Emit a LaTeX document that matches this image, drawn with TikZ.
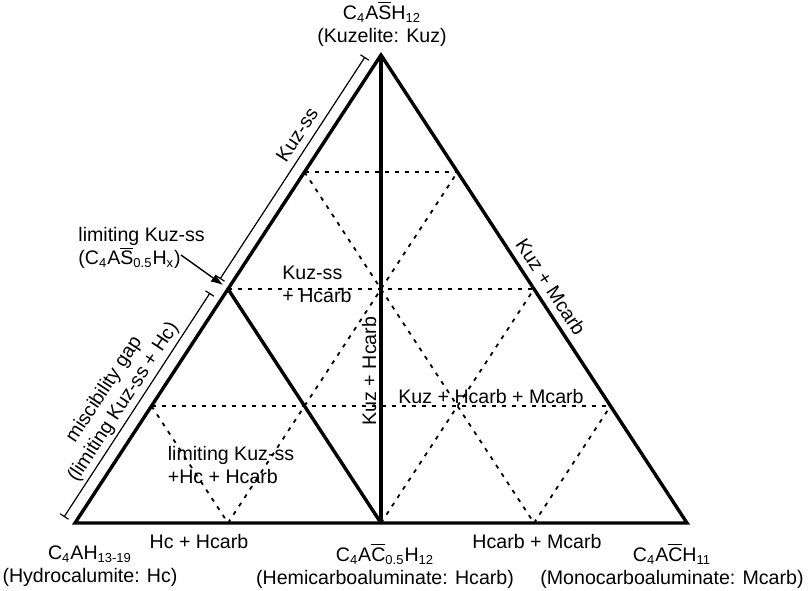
\documentclass[tikz,border=0pt]{standalone}
\usepackage{fontspec}
\setmainfont{Liberation Sans}
\usetikzlibrary{arrows.meta}

\newcommand{\ovr}[1]{$\overline{\mbox{#1}}$}
\newcommand{\sbs}[1]{\textsubscript{\fontsize{6.5}{6.5}\selectfont #1}}

\tikzset{
  phase/.style={line width=1.7pt, line join=miter},
  gridline/.style={line width=0.9pt, dash pattern=on 2pt off 3pt},
  dimline/.style={line width=0.6pt, {Bar[width=5pt]}-{Bar[width=5pt]}},
  lbl/.style={font=\fontsize{9.8}{11.5}\selectfont, inner sep=0pt},
}

\begin{document}
\begin{tikzpicture}[x=0.5pt, y=-0.5pt]
   \useasboundingbox (0,0) rectangle (812,590);
   % corners of the triangle
   \coordinate (Kuz) at (381,55);
   \coordinate (Hc) at (75,523);
   \coordinate (Mcarb) at (687,523);
   \coordinate (Hcarb) at (381,523);
   \coordinate (lim) at (228,289);
   % grid points
   \coordinate (L1) at (304.5,172);
   \coordinate (L3) at (151.5,406);
   \coordinate (R1) at (457.5,172);
   \coordinate (R2) at (534,289);
   \coordinate (R3) at (610.5,406);
   \coordinate (B1) at (228,523);
   \coordinate (B3) at (534,523);
   % dotted grid
   \draw[gridline] (L1) -- (R1);
   \draw[gridline] (lim) -- (R2);
   \draw[gridline] (L3) -- (R3);
   \draw[gridline] (B1) -- (R1);
   \draw[gridline] (Hcarb) -- (R2);
   \draw[gridline] (B3) -- (R3);
   \draw[gridline] (L1) -- (B3);
   \draw[gridline] (L3) -- (B1);
   % phase boundaries
   \draw[phase] (Kuz) -- (Hc) -- (Mcarb) -- cycle;
   \draw[phase] (Kuz) -- (Hcarb);
   \draw[phase] (lim) -- (Hcarb);
   % ranges along the left edge
   \coordinate (ss1) at (365,57);
   \coordinate (ss2) at (220,279);
   \coordinate (gap1) at (210,293);
   \coordinate (gap2) at (64,517);
   \draw[dimline] (ss1) -- (ss2);
   \draw[dimline] (gap1) -- (gap2);
   % vertex labels
   \node[lbl, align=center] (kuzlbl) at (382,24) {C\sbs{4}A\ovr{S}H\sbs{12}\\(Kuzelite: Kuz)};
   \node[lbl, align=center] (hclbl) at (90,566) {C\sbs{4}AH\sbs{13-19}\\(Hydrocalumite: Hc)};
   \node[lbl, align=center] (hcarblbl) at (385,566) {C\sbs{4}A\ovr{C}\sbs{0.5}H\sbs{12}\\(Hemicarboaluminate: Hcarb)};
   \node[lbl, align=center] (mcarblbl) at (672,566) {C\sbs{4}A\ovr{C}H\sbs{11}\\(Monocarboaluminate: Mcarb)};
   % edge labels
   \node[lbl] (hchcarb) at (199,541) {Hc + Hcarb};
   \node[lbl] (hcarbmcarb) at (537,541) {Hcarb + Mcarb};
   \node[lbl, rotate=-56.8] (kuzmcarb) at (551,287) {Kuz + Mcarb};
   \node[lbl, rotate=90] (kuzhcarb) at (369,371) {Kuz + Hcarb};
   \node[lbl, rotate=56.8] (kuzss) at (297,135) {Kuz-ss};
   \node[lbl, rotate=56.8, align=center] (gap) at (114,396) {miscibility gap\\(limiting Kuz-ss + Hc)};
   % field labels
   \node[lbl, align=left] (ssfield) at (317,284) {Kuz-ss\\+ Hcarb};
   \node[lbl] (threefield) at (491,396) {Kuz + Hcarb + Mcarb};
   \node[lbl, align=left] (limfield) at (231,465) {limiting Kuz-ss\\+Hc + Hcarb};
   \node[lbl, align=left, anchor=west] (limlbl) at (78,248) {limiting Kuz-ss\\(C\sbs{4}A\ovr{S}\sbs{0.5}H\sbs{x})};
   \coordinate (limfrom) at (181,255);
   \coordinate (limtip) at (223,285);
   \draw[line width=0.7pt, -{Latex[length=6pt,width=4.5pt]}] (limfrom) -- (limtip);
\end{tikzpicture}
\end{document}
